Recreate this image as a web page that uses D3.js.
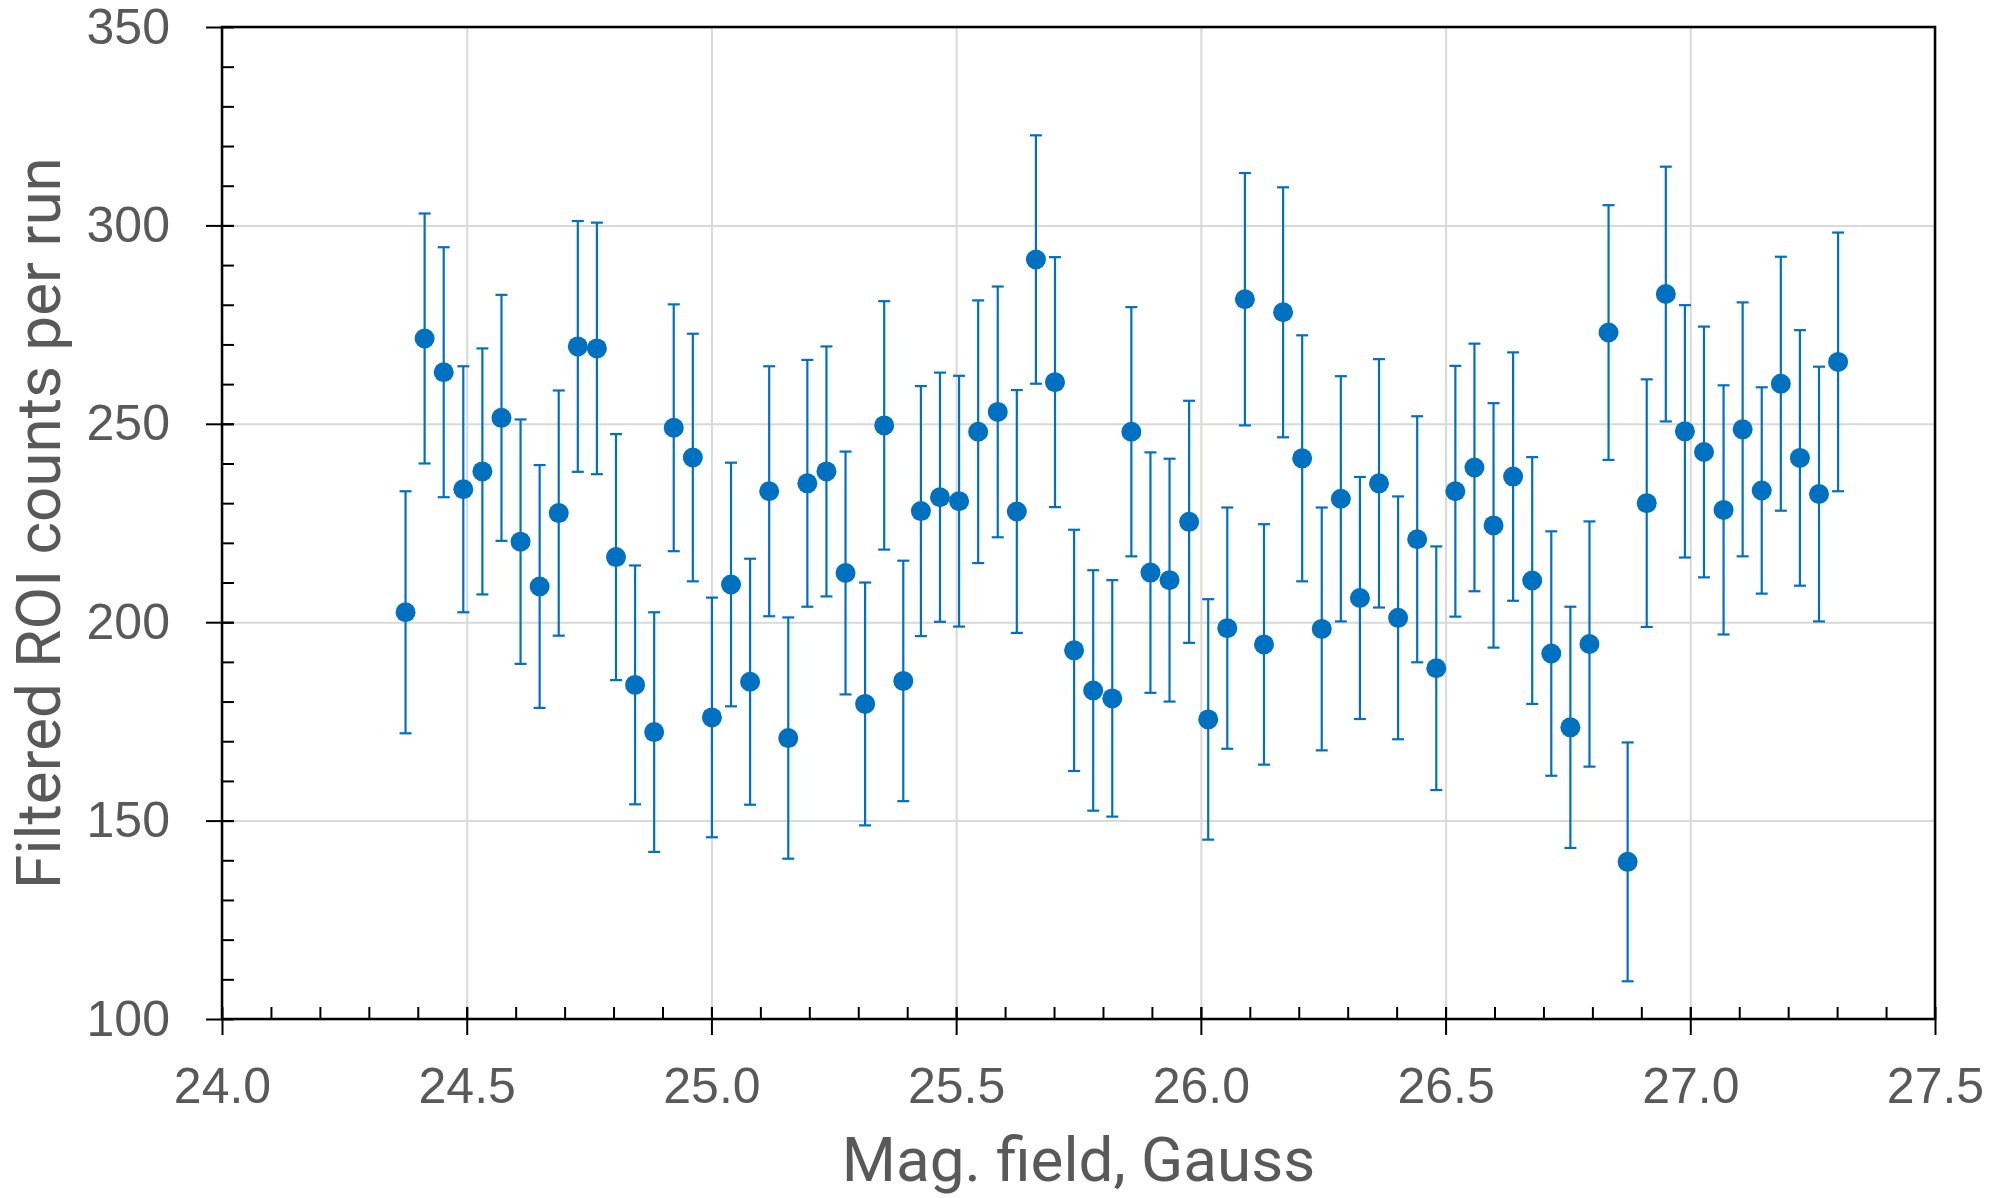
<!DOCTYPE html>
<html>
<head>
<meta charset="utf-8">
<script src="https://cdn.jsdelivr.net/npm/d3@7"></script>
<style>
  body { margin: 0; background: #fff; }
  svg { display: block; font-family: Roboto, "Noto Sans", sans-serif; }
  .tick text { fill: #595959; }
</style>
</head>
<body>
<div id="chart"></div>
<script>
// magnetic field (Gauss) for each run
const field = [24.375, 24.414, 24.453, 24.493, 24.532, 24.571, 24.610, 24.649, 24.688, 24.727,
  24.766, 24.805, 24.844, 24.883, 24.923, 24.962, 25.001, 25.040, 25.079, 25.118,
  25.157, 25.196, 25.235, 25.274, 25.314, 25.353, 25.392, 25.428, 25.467, 25.506,
  25.545, 25.585, 25.624, 25.663, 25.702, 25.741, 25.780, 25.819, 25.858, 25.897,
  25.936, 25.976, 26.015, 26.054, 26.090, 26.129, 26.168, 26.207, 26.247, 26.286,
  26.325, 26.364, 26.403, 26.442, 26.481, 26.520, 26.559, 26.598, 26.638, 26.677,
  26.716, 26.755, 26.794, 26.833, 26.872, 26.911, 26.950, 26.989, 27.028, 27.068,
  27.107, 27.146, 27.185, 27.224, 27.263, 27.302];

// filtered ROI counts per run
const counts = [202.5, 271.5, 263, 233.5, 238, 251.5, 220.3, 209, 227.5, 269.5,
  269, 216.4, 184.2, 172.3, 249, 241.5, 176, 209.5, 185, 233,
  170.8, 235, 238, 212.4, 179.4, 249.6, 185.2, 228, 231.5, 230.5,
  248, 253, 227.9, 291.4, 260.5, 192.9, 182.8, 180.8, 248, 212.5,
  210.6, 225.3, 175.5, 198.5, 281.4, 194.4, 278.1, 241.3, 198.3, 231.1,
  206.1, 235, 201.1, 220.9, 188.4, 233, 239, 224.4, 236.7, 210.5,
  192.1, 173.5, 194.5, 273, 139.6, 230, 282.7, 248.1, 242.9, 228.3,
  248.6, 233.2, 260.1, 241.4, 232.3, 265.6];

// half length of each error bar
const errs = [30.5, 31.5, 31.5, 31, 31, 31, 30.8, 30.6, 30.9, 31.6,
  31.7, 31, 30.1, 30.2, 31.1, 31.2, 30.2, 30.7, 31, 31.5,
  30.4, 31.1, 31.5, 30.6, 30.6, 31.3, 30.3, 31.5, 31.4, 31.6,
  33.1, 31.6, 30.6, 31.3, 31.5, 30.4, 30.3, 29.8, 31.4, 30.3,
  30.6, 30.5, 30.3, 30.4, 31.8, 30.3, 31.5, 31, 30.6, 30.9,
  30.5, 31.3, 30.6, 31, 30.7, 31.6, 31.2, 30.8, 31.3, 31.1,
  30.8, 30.4, 30.9, 32.1, 30.1, 31.2, 32.1, 31.8, 31.6, 31.4,
  32, 26, 32, 32.2, 32.1, 32.6];

const xTicks = [24.0, 24.5, 25.0, 25.5, 26.0, 26.5, 27.0, 27.5];
const yTicks = [100, 150, 200, 250, 300, 350];

const points = field.map((f, i) => ({ x: f, y: counts[i], e: errs[i] }));

const svgWidth = 2000;
const svgHeight = 1198;
const margin = { top: 27, right: 65, bottom: 179, left: 222 };
const width = svgWidth - margin.left - margin.right;
const height = svgHeight - margin.top - margin.bottom;

const blue = "#0070C0";

const svg = d3.select("#chart")
  .append("svg")
  .attr("width", svgWidth)
  .attr("height", svgHeight);

const chartGroup = svg.append("g")
  .attr("transform", `translate(${margin.left}, ${margin.top})`);

const xScale = d3.scaleLinear().domain([24, 27.5]).range([0, width]);
const yScale = d3.scaleLinear().domain([100, 350]).range([height, 0]);

// gridlines
chartGroup.append("g")
  .attr("class", "grid")
  .call(d3.axisLeft(yScale).tickValues(yTicks).tickSize(-width).tickFormat(""))
  .call(g => g.select(".domain").remove())
  .call(g => g.selectAll("line").attr("stroke", "#d9d9d9").attr("stroke-width", 2));

chartGroup.append("g")
  .attr("class", "grid")
  .attr("transform", `translate(0, ${height})`)
  .call(d3.axisBottom(xScale).tickValues(xTicks).tickSize(-height).tickFormat(""))
  .call(g => g.select(".domain").remove())
  .call(g => g.selectAll("line").attr("stroke", "#d9d9d9").attr("stroke-width", 2));

// plot frame
chartGroup.append("rect")
  .attr("width", width)
  .attr("height", height)
  .attr("fill", "none")
  .attr("stroke", "#000")
  .attr("stroke-width", 2.5);

// minor ticks (inside)
const xMinor = d3.range(24.1, 27.45, 0.1);
const yMinor = d3.range(110, 350, 10);

chartGroup.append("g")
  .attr("transform", `translate(0, ${height})`)
  .call(d3.axisTop(xScale).tickValues(xMinor).tickSize(12).tickFormat(""))
  .call(g => g.select(".domain").remove())
  .call(g => g.selectAll("line").attr("stroke", "#000").attr("stroke-width", 2));

chartGroup.append("g")
  .call(d3.axisRight(yScale).tickValues(yMinor).tickSize(12).tickFormat(""))
  .call(g => g.select(".domain").remove())
  .call(g => g.selectAll("line").attr("stroke", "#000").attr("stroke-width", 2));

// major axes with labels
const xAxis = chartGroup.append("g")
  .attr("transform", `translate(0, ${height})`)
  .call(d3.axisBottom(xScale).tickValues(xTicks).tickSize(16).tickPadding(32).tickFormat(d3.format(".1f")));

const yAxis = chartGroup.append("g")
  .call(d3.axisLeft(yScale).tickValues(yTicks).tickSize(16).tickPadding(36).tickFormat(d3.format("d")));

[xAxis, yAxis].forEach(ax => {
  ax.select(".domain").remove();
  ax.selectAll("line").attr("stroke", "#000").attr("stroke-width", 2);
  ax.selectAll("text").attr("font-size", 50).attr("fill", "#595959");
});
xAxis.selectAll("text").attr("dy", "0.71em");

// inner halves of the major ticks
chartGroup.append("g")
  .attr("transform", `translate(0, ${height})`)
  .call(d3.axisTop(xScale).tickValues(xTicks).tickSize(12).tickFormat(""))
  .call(g => g.select(".domain").remove())
  .call(g => g.selectAll("line").attr("stroke", "#000").attr("stroke-width", 2));

chartGroup.append("g")
  .call(d3.axisRight(yScale).tickValues(yTicks).tickSize(12).tickFormat(""))
  .call(g => g.select(".domain").remove())
  .call(g => g.selectAll("line").attr("stroke", "#000").attr("stroke-width", 2));

// error bars
const bars = chartGroup.append("g")
  .attr("stroke", blue)
  .attr("stroke-width", 2.2)
  .selectAll("g")
  .data(points)
  .enter()
  .append("g");

bars.append("line")
  .attr("x1", d => xScale(d.x))
  .attr("x2", d => xScale(d.x))
  .attr("y1", d => yScale(d.y - d.e))
  .attr("y2", d => yScale(d.y + d.e));

bars.append("line")
  .attr("x1", d => xScale(d.x) - 6)
  .attr("x2", d => xScale(d.x) + 6)
  .attr("y1", d => yScale(d.y + d.e))
  .attr("y2", d => yScale(d.y + d.e));

bars.append("line")
  .attr("x1", d => xScale(d.x) - 6)
  .attr("x2", d => xScale(d.x) + 6)
  .attr("y1", d => yScale(d.y - d.e))
  .attr("y2", d => yScale(d.y - d.e));

// markers
chartGroup.append("g")
  .selectAll("circle")
  .data(points)
  .enter()
  .append("circle")
  .attr("cx", d => xScale(d.x))
  .attr("cy", d => yScale(d.y))
  .attr("r", 10)
  .attr("fill", blue);

// axis titles
svg.append("text")
  .attr("x", margin.left + width / 2)
  .attr("y", 1181)
  .attr("text-anchor", "middle")
  .attr("font-size", 62)
  .attr("fill", "#595959")
  .text("Mag. field, Gauss");

svg.append("text")
  .attr("transform", `translate(60, ${margin.top + height / 2}) rotate(-90)`)
  .attr("text-anchor", "middle")
  .attr("font-size", 62)
  .attr("fill", "#595959")
  .text("Filtered ROI counts per run");
</script>
</body>
</html>
